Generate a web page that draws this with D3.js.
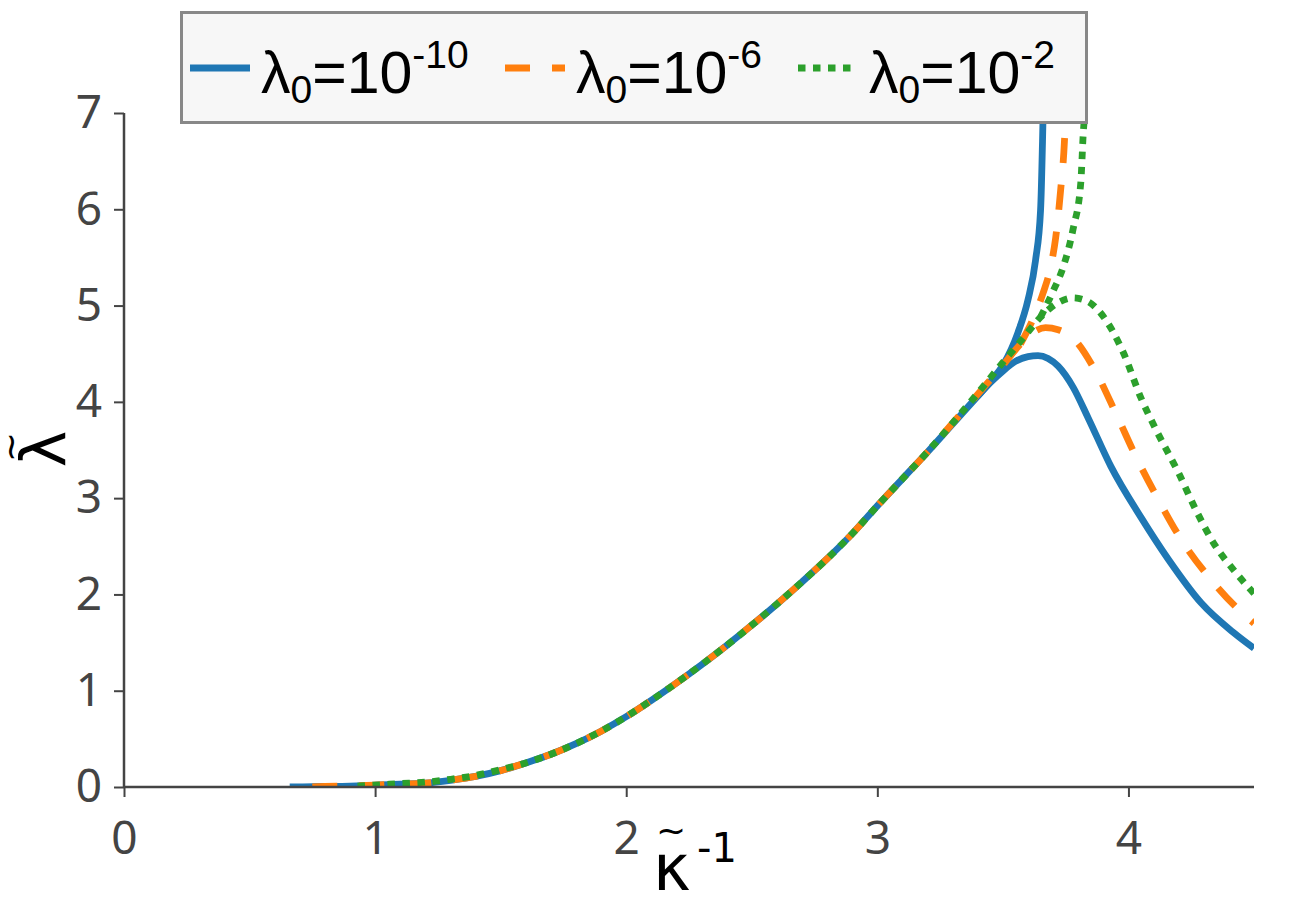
<!DOCTYPE html>
<html>
<head>
<meta charset="utf-8">
<script src="https://cdn.jsdelivr.net/npm/d3@7"></script>
<style>
  body { margin: 0; background: #fff; }
  svg { display: block; }
</style>
</head>
<body>
<svg id="chart" width="1294" height="901"></svg>
<script>
// Data (x = kappa~^-1, y = lambda~)
// each series has a main branch running to x=4.5 and an upper branch that blows up
let blueMainX = [0.66, 0.8, 0.9, 1.0, 1.1, 1.2, 1.3, 1.4, 1.5, 1.6, 1.7, 1.8, 1.9, 2.0, 2.1, 2.2, 2.3, 2.4, 2.5, 2.6, 2.7, 2.8, 2.9, 3.0, 3.1, 3.2, 3.3, 3.4, 3.45, 3.5, 3.55, 3.6, 3.64, 3.68, 3.72, 3.78, 3.84, 3.93, 4.05, 4.16, 4.29, 4.42, 4.5]
let blueMainY = [0, 0.005, 0.01, 0.02, 0.03, 0.04, 0.07, 0.11, 0.17, 0.25, 0.34, 0.45, 0.58, 0.73, 0.9, 1.08, 1.27, 1.47, 1.68, 1.9, 2.13, 2.37, 2.63, 2.92, 3.2, 3.48, 3.77, 4.06, 4.2, 4.32, 4.42, 4.47, 4.48, 4.45, 4.37, 4.15, 3.83, 3.33, 2.8, 2.36, 1.91, 1.6, 1.44]
let blueUpX = [3.4, 3.45, 3.5, 3.56, 3.6, 3.63, 3.65, 3.657, 3.66, 3.662]
let blueUpY = [4.06, 4.21, 4.38, 4.72, 5.06, 5.47, 5.99, 6.62, 7.0, 7.5]

let orangeMainX = [0.75, 0.8, 0.9, 1.0, 1.1, 1.2, 1.3, 1.4, 1.5, 1.6, 1.7, 1.8, 1.9, 2.0, 2.1, 2.2, 2.3, 2.4, 2.5, 2.6, 2.7, 2.8, 2.9, 3.0, 3.1, 3.2, 3.3, 3.4, 3.5, 3.57, 3.62, 3.67, 3.72, 3.78, 3.86, 3.95, 4.03, 4.12, 4.21, 4.33, 4.46, 4.5]
let orangeMainY = [0, 0.005, 0.01, 0.02, 0.03, 0.04, 0.07, 0.11, 0.17, 0.25, 0.34, 0.45, 0.58, 0.73, 0.9, 1.08, 1.27, 1.47, 1.68, 1.9, 2.13, 2.37, 2.63, 2.92, 3.2, 3.48, 3.78, 4.08, 4.38, 4.6, 4.72, 4.77, 4.75, 4.66, 4.36, 3.88, 3.43, 2.98, 2.57, 2.15, 1.79, 1.7]
let orangeUpX = [3.57, 3.62, 3.66, 3.69, 3.71, 3.73, 3.745, 3.75, 3.755]
let orangeUpY = [4.6, 4.86, 5.13, 5.4, 5.7, 6.2, 6.7, 7.0, 7.5]

let greenMainX = [0.93, 1.0, 1.1, 1.2, 1.3, 1.4, 1.5, 1.6, 1.7, 1.8, 1.9, 2.0, 2.1, 2.2, 2.3, 2.4, 2.5, 2.6, 2.7, 2.8, 2.9, 3.0, 3.1, 3.2, 3.3, 3.4, 3.5, 3.58, 3.65, 3.72, 3.78, 3.84, 3.89, 3.98, 4.05, 4.11, 4.2, 4.27, 4.34, 4.42, 4.5]
let greenMainY = [0.01, 0.02, 0.035, 0.05, 0.08, 0.12, 0.18, 0.25, 0.34, 0.45, 0.58, 0.73, 0.9, 1.08, 1.27, 1.47, 1.68, 1.9, 2.13, 2.37, 2.63, 2.92, 3.2, 3.48, 3.78, 4.09, 4.41, 4.66, 4.88, 5.03, 5.08, 5.04, 4.92, 4.51, 4.04, 3.71, 3.26, 2.87, 2.53, 2.25, 2.01]
let greenUpX = [3.65, 3.7, 3.74, 3.78, 3.81, 3.82, 3.825, 3.83]
let greenUpY = [4.88, 5.15, 5.4, 5.8, 6.27, 6.79, 7.0, 7.5]

let xTicks = [0, 1, 2, 3, 4]
let yTicks = [0, 1, 2, 3, 4, 5, 6, 7]
let seriesNames = ["-10", "-6", "-2"]
let seriesColors = ["#1f77b4", "#ff7f0e", "#2ca02c"]
let seriesDash = [null, "25,22", "7.5,7.5"]

// Helpers
let zipPts = (xs, ys) => xs.map((x, i) => ({x: x, y: ys[i]}))

let series = [
  {main: zipPts(blueMainX, blueMainY), up: zipPts(blueUpX, blueUpY)},
  {main: zipPts(orangeMainX, orangeMainY), up: zipPts(orangeUpX, orangeUpY)},
  {main: zipPts(greenMainX, greenMainY), up: zipPts(greenUpX, greenUpY)}
]

let plotL = 124, plotR = 1254, plotT = 113, plotB = 787
let axisColor = "#444444"
let tickFont = "'Noto Sans', sans-serif"
let mathFont = "'DejaVu Sans', sans-serif"
let lw = 6.8

let x = d3.scaleLinear().domain([0, 4.5]).range([plotL, plotR])
let y = d3.scaleLinear().domain([0, 7]).range([plotB, plotT])

let svg = d3.select("#chart")

svg.append("defs").append("clipPath").attr("id", "plotclip")
  .append("rect")
  .attr("x", plotL).attr("y", plotT)
  .attr("width", plotR - plotL).attr("height", plotB - plotT)

// curves
let lineFn = d3.line()
  .x(d => x(d.x))
  .y(d => y(d.y))
  .curve(d3.curveMonotoneX)

let plot = svg.append("g").attr("clip-path", "url(#plotclip)")
series.forEach((s, i) => {
  [s.main, s.up].forEach(pts => {
    plot.append("path")
      .attr("d", lineFn(pts))
      .attr("fill", "none")
      .attr("stroke", seriesColors[i])
      .attr("stroke-width", lw)
      .attr("stroke-dasharray", seriesDash[i])
      .attr("stroke-linejoin", "round")
  })
})

// axes
let xAxis = d3.axisBottom(x).tickValues(xTicks).tickFormat(d3.format("d")).tickSize(10).tickPadding(24)
let yAxis = d3.axisLeft(y).tickValues(yTicks).tickFormat(d3.format("d")).tickSize(10).tickPadding(12)

let gx = svg.append("g").attr("transform", `translate(0,${plotB})`).call(xAxis)
let gy = svg.append("g").attr("transform", `translate(${plotL},0)`).call(yAxis)

;[gx, gy].forEach(g => {
  g.select(".domain").attr("stroke", axisColor).attr("stroke-width", 2.5)
  g.selectAll(".tick line").attr("stroke", axisColor).attr("stroke-width", 2)
  g.selectAll(".tick text")
    .attr("fill", axisColor)
    .style("font-family", tickFont)
    .style("font-size", "46px")
})
gx.select(".domain").attr("d", `M${plotL},0H${plotR}`)
gy.select(".domain").attr("d", `M0,${plotB}V${plotT}`)

// axis labels
let xl = svg.append("g").style("font-family", mathFont).attr("fill", "#000")
xl.append("text").attr("x", 653).attr("y", 890).style("font-size", "64px").text("κ")
xl.append("text").attr("x", 671).attr("y", 843).attr("text-anchor", "middle").style("font-size", "36px").text("~")
xl.append("text").attr("x", 697).attr("y", 862).style("font-size", "40px").text("-1")

let yl = svg.append("g").attr("transform", "translate(65,449) rotate(-90)")
  .style("font-family", mathFont).attr("fill", "#000")
yl.append("text").attr("x", 0).attr("y", 0).attr("text-anchor", "middle").style("font-size", "62px").text("λ")
yl.append("text").attr("x", 2).attr("y", -42).attr("text-anchor", "middle").style("font-size", "36px").text("~")

// legend
let legend = svg.append("g")
legend.append("rect")
  .attr("x", 181.5).attr("y", 12.5).attr("width", 905).attr("height", 110)
  .attr("fill", "#f7f7f7").attr("stroke", "#888888").attr("stroke-width", 3)

let legX = [190, 505, 798]
let legFont = "'Liberation Sans', Arial, sans-serif"
seriesNames.forEach((nm, i) => {
  legend.append("line")
    .attr("x1", legX[i]).attr("x2", legX[i] + 60)
    .attr("y1", 68).attr("y2", 68)
    .attr("stroke", seriesColors[i]).attr("stroke-width", lw)
    .attr("stroke-dasharray", seriesDash[i])
  let t = legend.append("text")
    .attr("x", legX[i] + 71).attr("y", 93)
    .style("font-family", legFont).style("font-size", "59px").attr("fill", "#000")
  t.append("tspan").text("λ")
  t.append("tspan").attr("y", 103).style("font-size", "39px").text("0")
  t.append("tspan").attr("y", 93).text("=10")
  t.append("tspan").attr("y", 68).style("font-size", "39px").text(nm)
})
</script>
</body>
</html>
